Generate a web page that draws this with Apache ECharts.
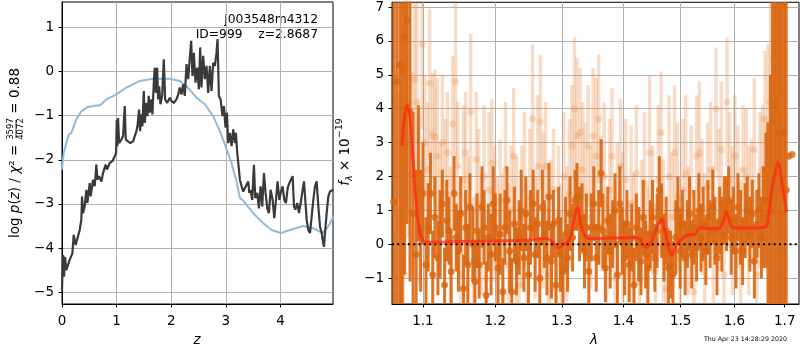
<!DOCTYPE html>
<html><head><meta charset="utf-8">
<script src="https://cdn.jsdelivr.net/npm/echarts@6/dist/echarts.min.js"></script>
<style>html,body{margin:0;padding:0;background:#fff}#c{width:800px;height:350px}</style>
</head><body><div id="c"></div>
<script>
// ---------- Left panel: log p(z) ----------
const zDark = [0,0.018,0.037,0.055,0.079,0.14,0.19,0.214,0.25,0.324,0.354,0.367,0.385,0.415,0.446,0.464,0.507,0.525,0.568,0.599,0.629,0.648,0.678,0.721,0.751,0.8,0.825,0.874,0.922,0.965,0.99,1.002,1.014,1.026,1.045,1.087,1.118,1.148,1.167,1.21,1.252,1.301,1.332,1.362,1.381,1.411,1.429,1.454,1.472,1.497,1.515,1.546,1.564,1.588,1.607,1.637,1.655,1.68,1.698,1.717,1.741,1.759,1.778,1.802,1.833,1.863,1.888,1.924,1.973,2.004,2.046,2.095,2.126,2.156,2.187,2.217,2.248,2.279,2.309,2.34,2.364,2.388,2.413,2.443,2.474,2.505,2.529,2.553,2.584,2.614,2.645,2.676,2.706,2.737,2.767,2.798,2.828,2.847,2.871,2.902,2.938,2.963,2.993,3.018,3.042,3.073,3.103,3.134,3.164,3.183,3.207,3.232,3.256,3.287,3.317,3.348,3.378,3.409,3.427,3.451,3.482,3.513,3.537,3.574,3.604,3.635,3.665,3.696,3.726,3.757,3.787,3.818,3.855,3.885,3.916,3.946,3.977,4.007,4.038,4.068,4.099,4.13,4.16,4.191,4.221,4.246,4.27,4.307,4.337,4.374,4.404,4.429,4.453,4.478,4.508,4.539,4.569,4.6,4.63,4.661,4.692,4.722,4.753,4.771,4.795,4.814,4.844,4.875,4.905,4.936,4.966];
const lpDark = [-4.95,-4.16,-4.65,-4.2,-4.5,-4.27,-4.12,-3.7,-3.93,-3.59,-3.36,-2.83,-3.21,-3.06,-2.68,-2.98,-2.53,-2.83,-2.45,-2.6,-2.11,-2.45,-2.37,-2.49,-2.3,-2.11,-2.22,-2.07,-2.03,-1.92,-1.84,-1.09,-1.69,-1.05,-1.62,-1.54,-1.46,-0.78,-1.54,-1.58,-1.62,-1.58,-1.54,-1.35,-1.24,-0.86,-1.35,-0.97,-1.24,-0.44,-1.16,-0.71,-1.01,-0.55,-0.93,-0.63,-0.97,-0.25,0.09,-0.48,0.09,-0.63,-0.33,-0.74,-0.55,0.28,-0.63,-0.71,-0.59,-0.67,-0.71,-0.63,-0.52,-0.36,-0.52,-0.29,-0.55,0.17,-0.17,0.32,0.7,-0.1,0.43,-0.25,0.09,-0.4,0.55,-0.36,0.36,-0.17,0.13,-0.48,0.13,-0.44,0.2,0.13,0.43,0.74,-0.55,-0.63,-1.01,-0.78,-1.27,-0.93,-1.62,-1.39,-1.69,-1.31,-1.62,-1.39,-1.84,-2.15,-2.45,-2.6,-2.72,-2.64,-2.68,-2.49,-2.75,-2.68,-2.91,-2.11,-2.87,-2.75,-3.1,-2.6,-3.06,-2.3,-2.75,-3.1,-3.21,-2.68,-2.91,-3.32,-2.91,-2.49,-2.91,-2.72,-2.6,-2.91,-2.98,-2.64,-2.53,-2.56,-2.37,-3.06,-3.13,-2.98,-3.21,-2.94,-2.68,-2.49,-2.91,-3.36,-3.59,-3.66,-3.29,-2.91,-2.6,-2.49,-3.06,-3.51,-3.66,-3.82,-3.97,-3.66,-3.21,-2.83,-2.72,-2.75,-2.68];
const zBlue = [0,0.031,0.079,0.122,0.171,0.214,0.275,0.354,0.476,0.629,0.69,0.812,0.99,1.179,1.423,1.668,1.973,2.156,2.279,2.462,2.615,2.767,2.889,2.993,3.103,3.195,3.256,3.305,3.5,3.684,3.836,4.007,4.172,4.417,4.6,4.771,4.875,4.966];
const lpBlue = [-2.22,-1.84,-1.62,-1.43,-1.39,-1.24,-1.05,-0.9,-0.8,-0.77,-0.77,-0.63,-0.52,-0.36,-0.21,-0.16,-0.16,-0.21,-0.33,-0.59,-0.74,-1.01,-1.35,-1.69,-2.07,-2.49,-2.87,-2.91,-3.21,-3.44,-3.59,-3.66,-3.59,-3.5,-3.55,-3.66,-3.51,-3.29];
const zTicks = [0,1,2,3,4];
const lpTicks = [-5,-4,-3,-2,-1,0,1];

// ---------- Right panel: spectrum ----------
const lamDark = [1.062,1.066,1.070,1.073,1.076,1.079,1.083,1.087,1.091,1.094,1.097,1.100,1.104,1.107,1.110,1.113,1.116,1.120,1.123,1.126,1.129,1.132,1.135,1.138,1.142,1.145,1.148,1.151,1.155,1.158,1.161,1.164,1.168,1.171,1.174,1.177,1.181,1.184,1.187,1.190,1.194,1.197,1.200,1.204,1.207,1.211,1.214,1.217,1.221,1.224,1.228,1.231,1.235,1.238,1.242,1.245,1.249,1.252,1.256,1.259,1.263,1.266,1.270,1.273,1.277,1.280,1.284,1.287,1.291,1.295,1.298,1.302,1.306,1.309,1.313,1.317,1.321,1.324,1.328,1.332,1.336,1.339,1.343,1.347,1.351,1.355,1.359,1.363,1.366,1.370,1.374,1.378,1.382,1.386,1.390,1.394,1.398,1.402,1.406,1.410,1.414,1.418,1.422,1.426,1.430,1.434,1.438,1.442,1.446,1.450,1.454,1.458,1.462,1.466,1.470,1.474,1.478,1.482,1.486,1.491,1.495,1.499,1.503,1.508,1.512,1.516,1.520,1.524,1.529,1.533,1.537,1.541,1.546,1.550,1.554,1.559,1.563,1.567,1.572,1.576,1.581,1.585,1.589,1.594,1.598,1.603,1.607,1.612,1.616,1.621,1.625,1.630,1.635,1.639,1.644,1.648,1.653,1.657,1.662,1.666,1.671,1.675,1.680,1.684,1.689,1.693,1.698,1.703,1.708,1.715];
const fDark = [1.25,4.8,5.3,5.1,6.1,6.6,3.9,0.9,-0.3,2.1,0.4,1.5,-0.6,0.5,1.5,-0.9,0.8,-0.4,0.3,1.2,-1.2,0.7,0.4,-0.8,1.5,0.2,-0.2,0.9,-1.3,0.5,-0.6,1.1,0.0,-1.1,0.4,-0.6,1.1,0.5,-1.5,0.2,-0.3,1.2,0.5,-0.7,0.3,-1.4,0.5,1.3,-0.2,-1.4,0.6,-0.5,0.2,1.0,-0.4,0.9,-0.9,0.5,1.2,-0.3,0.6,-1.0,1.1,0.3,-0.4,1.4,-0.5,0.6,-1.2,0.7,-0.3,-0.8,0.3,-0.4,0.9,0.2,1.3,1.4,0.6,0.8,-0.2,0.5,-0.8,0.5,1.2,-0.4,0.5,2.1,0.4,-0.7,0.7,-0.2,0.3,1.0,-0.9,1.2,0.1,-0.4,0.6,-0.6,0.2,-1.2,0.5,0.0,-0.5,0.8,-0.3,-0.7,0.3,0.8,-0.4,0.4,1.6,0.7,-0.1,0.4,-0.7,-0.6,-0.9,0.2,1.0,-0.2,0.6,-0.4,0.3,0.9,-0.3,0.5,-0.1,1.0,0.2,0.6,-0.2,0.8,0.3,1.1,0.4,-0.4,0.7,0.3,1.0,0.9,1.3,0.2,0.7,-0.2,1.1,0.5,-0.2,0.7,1.0,0.3,0.9,-0.5,0.6,1.0,0.2,0.8,1.3,0.6,1.0,3.6,4.1,2.1,3.3,0.9,3.3,1.6,2.6,2.65];
const eDark = [12,12,9,8,7,6,5,3,2.5,2,1.8,1.5,1.4,1.3,1.2,1.3,1.2,1.1,1.3,1.0,1.1,1.2,1.0,1.2,1.1,1.0,1.2,1.1,1.0,1.1,1.2,1.0,1.1,1.2,1.1,1.0,1.2,1.1,1.0,1.0,1.2,1.1,1.0,1.1,1.2,1.0,1.1,1.0,1.2,1.0,1.1,1.0,1.1,1.2,1.0,1.1,1.0,1.1,1.0,1.1,1.0,1.2,1.1,1.0,1.1,1.0,1.1,1.0,1.1,1.0,1.1,1.0,1.1,1.0,1.1,1.0,0.9,1.0,1.1,1.0,1.1,1.0,1.1,1.0,1.1,1.0,1.1,1.0,1.1,1.0,1.0,1.1,1.0,1.1,1.0,1.1,1.0,1.1,1.0,1.1,1.0,1.1,1.0,1.1,1.0,1.1,1.0,1.1,1.0,1.1,1.0,1.1,1.0,1.1,1.0,1.0,1.1,1.0,1.0,1.1,1.0,1.1,1.0,1.1,1.0,1.1,1.0,1.1,1.0,1.1,1.0,1.1,1.0,1.1,1.0,1.1,1.0,1.1,1.0,1.1,1.0,1.1,1.0,1.1,1.0,1.1,1.0,1.1,1.0,1.1,1.0,1.1,1.0,1.1,1.0,1.1,1.2,1.5,2,3,4,6,8,10,12,12,14,14];
const lamLight = [1.064,1.068,1.071,1.074,1.078,1.081,1.085,1.089,1.092,1.095,1.099,1.102,1.106,1.109,1.113,1.116,1.119,1.123,1.126,1.130,1.133,1.137,1.140,1.144,1.147,1.151,1.155,1.158,1.162,1.165,1.169,1.173,1.176,1.180,1.184,1.187,1.191,1.195,1.199,1.203,1.207,1.211,1.215,1.219,1.223,1.227,1.231,1.235,1.239,1.243,1.247,1.251,1.255,1.259,1.263,1.267,1.271,1.275,1.279,1.283,1.287,1.291,1.295,1.299,1.303,1.308,1.312,1.316,1.320,1.324,1.329,1.333,1.337,1.342,1.346,1.350,1.355,1.359,1.363,1.368,1.372,1.377,1.381,1.386,1.390,1.395,1.399,1.404,1.408,1.413,1.417,1.422,1.427,1.431,1.436,1.441,1.445,1.450,1.455,1.460,1.465,1.469,1.474,1.479,1.484,1.489,1.494,1.499,1.504,1.509,1.514,1.519,1.524,1.529,1.534,1.539,1.544,1.549,1.555,1.560,1.565,1.570,1.575,1.580,1.586,1.591,1.596,1.601,1.607,1.612,1.617,1.623,1.628,1.633,1.639,1.644,1.650,1.655,1.660,1.666,1.671,1.677,1.682,1.688,1.693,1.699];
const fLight = [-1.0,-1.5,0.6,-0.9,7.1,4.2,2.1,4.85,4.2,1.3,5.9,3.0,2.2,4.75,3.25,3.15,2.6,1.1,3.0,1.5,2.7,0.2,3.55,4.8,2.3,-0.9,1.9,2.7,0.5,3.9,-0.5,2.5,1.2,0.3,2.0,-1.0,1.6,2.4,0.9,-0.2,1.3,0.0,2.2,-0.6,1.0,2.6,0.4,-1.2,0.8,1.6,-0.5,1.4,3.7,0.2,2.3,3.6,1.0,2.3,-0.9,0.3,1.6,-1.3,0.9,-0.6,2.0,0.3,1.5,2.9,4.0,3.2,3.3,2.2,1.4,2.9,0.8,3.2,2.6,3.7,1.2,2.0,-0.4,1.6,2.6,-1.0,1.1,2.3,0.5,1.9,-0.8,1.2,0.2,2.1,-1.1,0.7,1.8,-0.3,2.7,1.0,-0.8,1.9,3.3,0.4,-1.3,2.0,0.8,2.7,1.4,-0.4,1.6,2.1,0.4,1.5,-1.4,2.6,2.7,1.1,-0.2,1.7,2.2,0.1,4.0,1.3,2.8,-0.9,4.2,1.9,0.7,2.6,1.4,-0.4,2.2,2.0,0.7,1.3,2.8,-0.9,1.6,2.2,3.7,3.4,4.2,5.5,5.9,6.0,4.5,-0.3];
const eLight = [6,6,5,5,6,4,3,3,3,2.5,2.5,2,2,2.2,1.8,2,2.3,1.9,2,2.2,1.8,2.1,2,2.4,1.9,2,2.2,1.8,2.1,2.3,1.9,2,2.2,1.8,2.1,2,2.3,1.9,2,2.2,1.8,2.1,2,2.4,1.9,2,2.2,1.8,2.1,2.3,1.9,2,2.2,1.8,2.1,2,2.3,1.9,2,2.2,1.8,2.1,2,2.4,1.9,2,2.2,1.8,2.1,2.3,1.9,2,2.2,1.8,2.1,2,2.3,1.9,2,2.2,1.8,2.1,2,2.4,1.9,2,2.2,1.8,2.1,2.3,1.9,2,2.2,1.8,2.1,2,2.3,1.9,2,2.2,1.8,2.1,2,2.4,1.9,2,2.2,1.8,2.1,2.3,1.9,2,2.2,1.8,2.1,2,2.3,1.9,2,2.2,1.8,2.1,2,2.4,1.9,2,2.2,1.8,2.1,2.3,1.9,2,2.2,1.8,2.1,2,2.3,1.9,2,2.5,3,4,5,6,8,8,10];
const lamModel = [1.0726,1.076,1.080,1.084,1.089,1.094,1.099,1.105,1.15,1.2,1.25,1.274,1.2846,1.2937,1.3077,1.3134,1.318,1.3246,1.3312,1.3395,1.35,1.4168,1.4286,1.439,1.4484,1.458,1.466,1.4716,1.4845,1.4929,1.5042,1.5134,1.5264,1.535,1.547,1.5688,1.577,1.5845,1.594,1.6035,1.659,1.6684,1.676,1.6864,1.6965,1.7033];
const fModel = [2.9,3.8,4.1,3.5,1.8,0.6,0.15,0.06,0.08,0.1,0.13,0.17,0.1,-0.1,0.05,0.2,0.6,1.09,0.5,0.2,0.17,0.2,0.15,-0.1,0.1,0.5,0.75,0.4,-0.32,0.0,0.2,0.28,0.3,0.5,0.47,0.47,0.6,0.95,0.55,0.48,0.5,1.0,1.8,2.41,1.6,0.95];
const lamTicks = [1.1,1.2,1.3,1.4,1.5,1.6,1.7];
const fTicks = [-1,0,1,2,3,4,5,6,7];

const FONT = 'DejaVu Sans';
const Y1 = [-5.27, 1.58], X1 = [0, 4.96];
const Y2 = [-1.76, 7.14], X2 = [1.0598, 1.7294];
const ORANGE = '#d9650f';
const minus = v => String(v).replace('-', '\u2212');

function axisCommon(ticks, fmt, margin) {
  return {
    axisLine: {show: true, onZero: false, lineStyle: {color: '#000', width: 1}},
    axisTick: {show: true, inside: false, length: 3.5, lineStyle: {color: '#000', width: 1}, customValues: ticks},
    axisLabel: {customValues: ticks, color: '#000', fontSize: 13.5, fontFamily: FONT, margin: margin, formatter: fmt},
    splitLine: {show: true, lineStyle: {color: '#b0b0b0', width: 1}}
  };
}

function errRender(lams, fs, es, color, width) {
  return function (params, api) {
    const i = params.dataIndex;
    const lo = Math.max(fs[i] - es[i], Y2[0]);
    const hi = Math.min(fs[i] + es[i], Y2[1]);
    const p1 = api.coord([lams[i], lo]);
    const p2 = api.coord([lams[i], hi]);
    return {type: 'line', shape: {x1: p1[0], y1: p1[1], x2: p2[0], y2: p2[1]},
            style: {stroke: color, lineWidth: width}};
  };
}

const chart = echarts.init(document.getElementById('c'), null, {renderer: 'canvas'});
chart.setOption({
  animation: false,
  backgroundColor: '#fff',
  grid: [
    {left: 62, top: 2, width: 271, height: 302, show: true, borderColor: '#000', borderWidth: 1, backgroundColor: 'transparent'},
    {left: 392, top: 2, width: 407, height: 302, show: true, borderColor: '#000', borderWidth: 1, backgroundColor: 'transparent'}
  ],
  xAxis: [
    Object.assign({type: 'value', gridIndex: 0, min: X1[0], max: X1[1]}, axisCommon(zTicks, v => minus(v), 10)),
    Object.assign({type: 'log', logBase: 10, gridIndex: 1, min: X2[0], max: X2[1]}, axisCommon(lamTicks, v => Number(v).toFixed(1), 10))
  ],
  yAxis: [
    Object.assign({type: 'value', gridIndex: 0, min: Y1[0], max: Y1[1]}, axisCommon(lpTicks, v => minus(v), 8)),
    Object.assign({type: 'value', gridIndex: 1, min: Y2[0], max: Y2[1]}, axisCommon(fTicks, v => minus(v), 8))
  ],
  series: [
    {type: 'line', xAxisIndex: 0, yAxisIndex: 0, data: zBlue.map((z, i) => [z, lpBlue[i]]),
     showSymbol: false, lineStyle: {color: '#8fbbd9', width: 2}, z: 3},
    {type: 'line', xAxisIndex: 0, yAxisIndex: 0, data: zDark.map((z, i) => [z, lpDark[i]]),
     showSymbol: false, lineStyle: {color: '#3a3a3a', width: 2.2}, z: 4},
    {type: 'custom', xAxisIndex: 1, yAxisIndex: 1, clip: true,
     data: lamLight.map((l, i) => [l, fLight[i]]),
     renderItem: errRender(lamLight, fLight, eLight, 'rgba(232,140,70,0.3)', 3.5), z: 2},
    {type: 'scatter', xAxisIndex: 1, yAxisIndex: 1, data: lamLight.map((l, i) => [l, fLight[i]]),
     symbolSize: 7, itemStyle: {color: 'rgba(232,140,70,0.35)'}, z: 2},
    {type: 'custom', xAxisIndex: 1, yAxisIndex: 1, clip: true,
     data: lamDark.map((l, i) => [l, fDark[i]]),
     renderItem: errRender(lamDark, fDark, eDark, 'rgba(217,101,15,0.9)', 3), z: 3},
    {type: 'scatter', xAxisIndex: 1, yAxisIndex: 1, data: lamDark.map((l, i) => [l, fDark[i]]),
     symbolSize: 7, itemStyle: {color: ORANGE}, z: 3},
    {type: 'line', xAxisIndex: 1, yAxisIndex: 1, data: [[X2[0], 0], [X2[1], 0]],
     showSymbol: false, lineStyle: {color: '#000', width: 2, type: [2, 3.3]}, z: 4},
    {type: 'line', xAxisIndex: 1, yAxisIndex: 1, data: lamModel.map((l, i) => [l, fModel[i]]),
     showSymbol: false, smooth: 0.3, lineStyle: {color: 'rgba(255,40,20,0.75)', width: 3}, z: 5}
  ],
  graphic: [
    {type: 'text', x: 318, y: 20, style: {text: 'j003548m4312', font: '12.3px "DejaVu Sans"', fill: '#000', align: 'right', verticalAlign: 'middle'}},
    {type: 'text', x: 318, y: 35, style: {text: 'ID=999    z=2.8687', font: '12.3px "DejaVu Sans"', fill: '#000', align: 'right', verticalAlign: 'middle'}},
    {type: 'text', x: 197, y: 340, style: {text: 'z', font: 'italic 13.5px "DejaVu Sans"', fill: '#000', align: 'center', verticalAlign: 'middle'}},
    {type: 'text', x: 594, y: 340, style: {text: '\u03bb', font: 'italic 13.5px "DejaVu Sans"', fill: '#000', align: 'center', verticalAlign: 'middle'}},
    {type: 'text', x: 787, y: 339, style: {text: 'Thu Apr 23 14:28:29 2020', font: '6.3px "DejaVu Sans"', fill: '#000', align: 'right', verticalAlign: 'middle'}},
    {type: 'group', x: 15.5, y: 238, rotation: Math.PI / 2, children: [
      {type: 'text', x: 0, y: 0, style: {
        text: '{n|log }{i|p}{n|(}{i|z}{n|) / }{i|\u03c7}{n|\u00b2 =}',
        align: 'left', verticalAlign: 'middle',
        rich: {n: {fontFamily: FONT, fontSize: 13.5, fill: '#000'}, i: {fontFamily: FONT, fontStyle: 'italic', fontSize: 13.5, fill: '#000'}}}},
      {type: 'text', x: 109, y: -4.5, style: {text: '3597', font: '8.5px "DejaVu Sans"', fill: '#000', align: 'center', verticalAlign: 'middle'}},
      {type: 'line', shape: {x1: 100, y1: 0.5, x2: 118, y2: 0.5}, style: {stroke: '#000', lineWidth: 0.8}},
      {type: 'text', x: 109, y: 5.5, style: {text: '4072', font: '8.5px "DejaVu Sans"', fill: '#000', align: 'center', verticalAlign: 'middle'}},
      {type: 'text', x: 170, y: 0, style: {text: '= 0.88', font: '13.5px "DejaVu Sans"', fill: '#000', align: 'right', verticalAlign: 'middle'}}
    ]},
    {type: 'group', x: 345, y: 152, rotation: Math.PI / 2, children: [
      {type: 'text', x: 0, y: 0, style: {
        text: '{i|f}{s|\u03bb}{n| \u00d7 10}{p|\u221219}',
        align: 'center', verticalAlign: 'middle',
        rich: {
          i: {fontFamily: FONT, fontStyle: 'italic', fontSize: 13.5, fill: '#000', lineHeight: 20},
          n: {fontFamily: FONT, fontSize: 13.5, fill: '#000', lineHeight: 20},
          s: {fontFamily: FONT, fontStyle: 'italic', fontSize: 9.5, fill: '#000', verticalAlign: 'bottom', lineHeight: 12},
          p: {fontFamily: FONT, fontSize: 9.5, fill: '#000', verticalAlign: 'top', lineHeight: 12}
        }}}
    ]}
  ]
});
</script>
</body></html>
